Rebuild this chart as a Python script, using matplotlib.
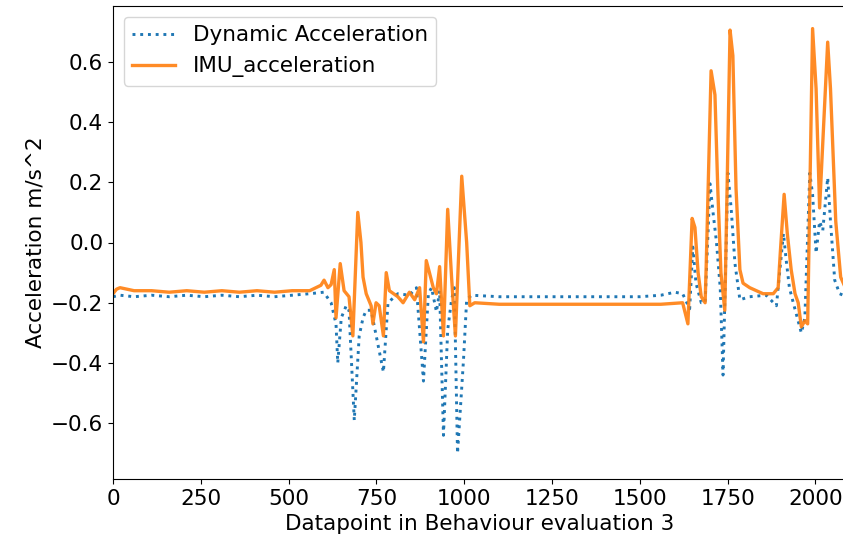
import matplotlib
matplotlib.use("Agg")
import matplotlib.pyplot as plt

# values (datapoint index, acceleration)
dyn_x = [0, 20, 60, 110, 160, 210, 260, 310, 360, 410, 460, 510, 560, 600, 621, 635, 640, 650,
         664, 672, 687, 701, 712, 721, 735, 770, 783, 811, 844, 864, 884, 898, 907, 921, 930,
         941, 953, 964, 972, 981, 998, 1007, 1021, 1100, 1200, 1300, 1400, 1500, 1560, 1600,
         1622, 1642, 1651, 1660, 1675, 1686, 1700, 1709, 1718, 1729, 1737, 1751, 1760, 1771,
         1785, 1813, 1860, 1889, 1909, 1917, 1926, 1937, 1960, 1970, 1984, 1992, 2002, 2012,
         2021, 2035, 2043, 2055, 2069, 2089]
dyn_y = [-0.18, -0.175, -0.18, -0.175, -0.18, -0.175, -0.18, -0.175, -0.18, -0.175, -0.18, -0.175,
         -0.17, -0.165, -0.20, -0.27, -0.40, -0.25, -0.21, -0.225, -0.59, -0.31, -0.25, -0.225,
         -0.225, -0.43, -0.20, -0.17, -0.175, -0.15, -0.46, -0.17, -0.15, -0.23, -0.16, -0.64,
         -0.29, -0.19, -0.15, -0.70, -0.39, -0.19, -0.175, -0.18, -0.18, -0.18, -0.18, -0.18,
         -0.175, -0.165, -0.17, -0.22, -0.015, -0.135, -0.20, -0.20, 0.195, 0.095, 0.005, -0.15,
         -0.44, 0.23, 0.115, -0.07, -0.19, -0.18, -0.175, -0.21, 0.03, -0.06, -0.15, -0.20, -0.30,
         -0.25, 0.23, 0.16, -0.035, 0.07, 0.04, 0.215, 0.07, -0.125, -0.17, -0.18]

imu_x = [0, 10, 20, 60, 110, 160, 210, 260, 310, 360, 410, 460, 510, 560, 592, 601, 612, 621,
         630, 635, 647, 658, 672, 683, 697, 706, 712, 721, 735, 740, 749, 758, 770, 778, 787,
         811, 826, 844, 859, 873, 884, 892, 901, 912, 921, 930, 941, 953, 964, 975, 993, 1007,
         1016, 1030, 1100, 1200, 1300, 1400, 1500, 1560, 1622, 1637, 1649, 1657, 1666, 1675,
         1686, 1689, 1703, 1714, 1722, 1731, 1742, 1757, 1765, 1774, 1785, 1794, 1813, 1851,
         1880, 1894, 1900, 1911, 1920, 1931, 1942, 1951, 1960, 1970, 1978, 1992, 2002, 2012,
         2035, 2043, 2058, 2072, 2089]
imu_y = [-0.17, -0.155, -0.15, -0.16, -0.16, -0.165, -0.16, -0.165, -0.16, -0.165, -0.16, -0.165,
         -0.16, -0.16, -0.142, -0.125, -0.15, -0.14, -0.09, -0.25, -0.07, -0.16, -0.18, -0.31,
         0.10, 0.0, -0.115, -0.17, -0.21, -0.27, -0.20, -0.21, -0.31, -0.10, -0.16, -0.18, -0.20,
         -0.165, -0.19, -0.15, -0.33, -0.06, -0.10, -0.15, -0.17, -0.08, -0.31, 0.11, -0.115,
         -0.31, 0.22, 0.0, -0.21, -0.20, -0.205, -0.205, -0.205, -0.205, -0.205, -0.205, -0.20,
         -0.27, 0.08, 0.05, -0.10, -0.18, -0.20, -0.08, 0.57, 0.49, 0.18, -0.10, -0.225, 0.705,
         0.62, 0.18, -0.09, -0.135, -0.15, -0.17, -0.17, -0.15, -0.035, 0.16, 0.03, -0.09, -0.17,
         -0.20, -0.28, -0.26, -0.27, 0.71, 0.51, 0.115, 0.665, 0.51, 0.07, -0.115, -0.16]

plt.rcParams["font.size"] = 15.5

fig = plt.figure(figsize=(8.43, 5.52), dpi=100)
ax = fig.add_axes([113 / 843, 73 / 552, 734 / 843, 473 / 552])
ax.plot(dyn_x, dyn_y, ":", color="C0", lw=2.1, label="Dynamic Acceleration")
ax.plot(imu_x, imu_y, "-", color="C1", lw=2.4, alpha=0.9, label="IMU_acceleration")
ax.set_xlim(0, 2090)
ax.set_ylim(-0.785, 0.785)
ax.set_xlabel("Datapoint in Behaviour evaluation 3")
ax.set_ylabel("Acceleration m/s^2")
ax.legend(loc="upper left")
fig.savefig("out.png", dpi=100)
